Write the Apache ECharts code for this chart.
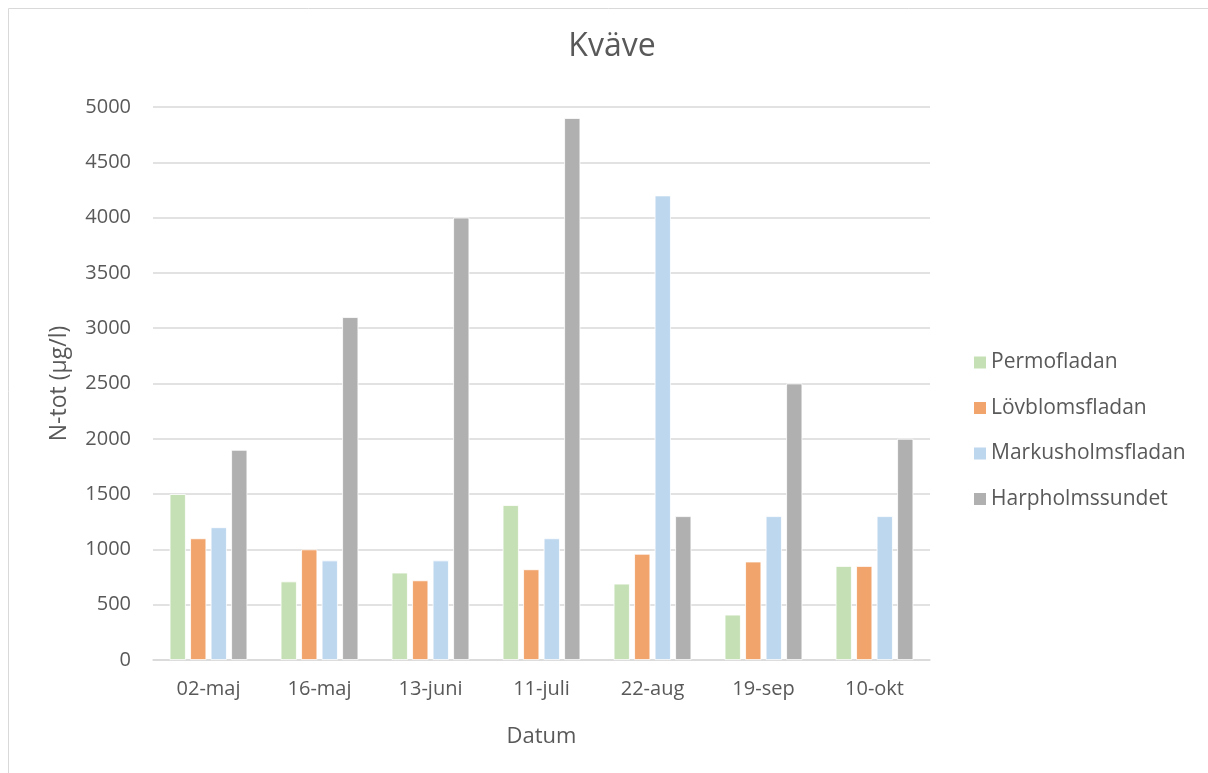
<!DOCTYPE html>
<html>
<head>
<meta charset="utf-8">
<script src="https://cdn.jsdelivr.net/npm/echarts@6/dist/echarts.min.js"></script>
<style>html,body{margin:0;padding:0;background:#fff;}#c{width:1208px;height:773px;}</style>
</head>
<body>
<div id="c"></div>
<script>
var categories = ['02-maj', '16-maj', '13-juni', '11-juli', '22-aug', '19-sep', '10-okt'];
var permofladan = [1500, 710, 790, 1400, 690, 410, 850];
var lovblomsfladan = [1100, 1000, 720, 820, 960, 890, 850];
var markusholmsfladan = [1200, 900, 900, 1100, 4200, 1300, 1300];
var harpholmssundet = [1900, 3100, 4000, 4900, 1300, 2500, 2000];
var seriesNames = ['Permofladan', 'Lövblomsfladan', 'Markusholmsfladan', 'Harpholmssundet'];
var colors = ['#C5E0B4', '#F1A46C', '#BDD7EE', '#B0B0B0'];

var font = 'Open Sans';
var textColor = '#595959';
var chart = echarts.init(document.getElementById('c'));
var dataSets = [permofladan, lovblomsfladan, markusholmsfladan, harpholmssundet];
chart.setOption({
  animation: false,
  color: colors,
  textStyle: { fontFamily: font },
  graphic: [{
    type: 'rect', shape: { x: 8.5, y: 8.5, width: 1220, height: 800 },
    style: { fill: 'none', stroke: '#D9D9D9', lineWidth: 1 }, silent: true
  }],
  title: {
    text: 'Kväve', left: 612, top: 31, textAlign: 'center', padding: 0,
    textStyle: { fontFamily: font, fontSize: 32, fontWeight: 'normal', color: textColor }
  },
  legend: {
    orient: 'vertical', left: 972, top: 352, itemGap: 24.5,
    itemWidth: 14, itemHeight: 14, icon: 'rect', padding: 0,
    textStyle: { fontFamily: font, fontSize: 21, color: textColor, padding: [0, 0, 0, -1] },
    data: seriesNames
  },
  grid: { left: 153, right: 278, top: 107, bottom: 113, containLabel: false },
  xAxis: {
    type: 'category', data: categories,
    name: 'Datum', nameLocation: 'middle', nameGap: 66,
    nameTextStyle: { fontFamily: font, fontSize: 22, color: textColor },
    axisLine: { lineStyle: { color: '#D9D9D9', width: 1.5 } },
    axisTick: { show: false },
    axisLabel: { fontFamily: font, fontSize: 20, color: textColor, margin: 19 }
  },
  yAxis: {
    type: 'value', min: 0, max: 5000, interval: 500,
    name: 'N-tot (µg/l)', nameLocation: 'middle', nameGap: 82, nameRotate: 90,
    nameTextStyle: { fontFamily: font, fontSize: 23, color: textColor },
    axisLine: { show: false }, axisTick: { show: false },
    axisLabel: { fontFamily: font, fontSize: 20, color: textColor, margin: 22,
      formatter: function (v) { return String(v); } },
    splitLine: { lineStyle: { color: '#D9D9D9', width: 1.5 } }
  },
  series: dataSets.map(function (d, i) {
    return {
      name: seriesNames[i], type: 'bar', data: d,
      barGap: '27%', barCategoryGap: '30%',
      itemStyle: { color: colors[i], borderColor: '#ffffff', borderWidth: 0.8 }
    };
  })
});
</script>
</body>
</html>
